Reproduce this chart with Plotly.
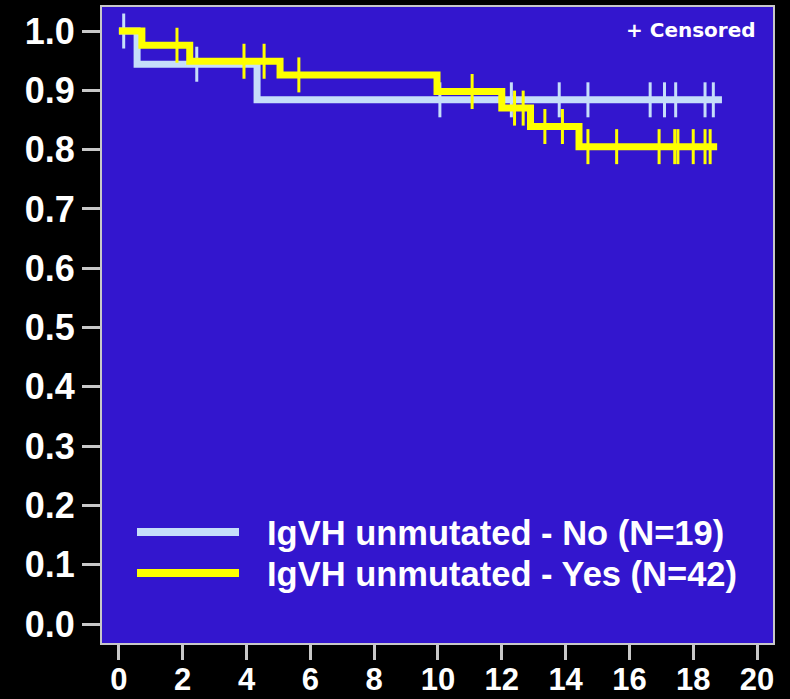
import numpy as np
import plotly.graph_objects as go

# Kaplan-Meier step data (time in years, survival probability)
no_step_times = [0.0, 0.57, 4.33]
no_step_surv = [1.0, 0.944, 0.884]
no_end_time = 18.9
no_censor_times = [0.15, 2.44, 10.06, 12.3, 13.8, 14.7, 16.65, 17.1, 17.45, 18.37, 18.63]

yes_step_times = [0.0, 0.72, 2.22, 5.05, 9.97, 12.0, 12.9, 14.42]
yes_step_surv = [1.0, 0.976, 0.949, 0.926, 0.898, 0.870, 0.839, 0.805]
yes_end_time = 18.75
yes_censor_times = [1.82, 3.92, 4.55, 5.64, 11.07, 12.4, 12.67, 13.35, 13.9,
                    14.7, 15.6, 16.93, 17.42, 17.52, 18.0, 18.37, 18.53]

group_labels = ["IgVH unmutated - No (N=19)", "IgVH unmutated - Yes (N=42)"]
group_colors = ["#C6DEFA", "#FFFF00"]

x_ticks = list(range(0, 21, 2))
y_ticks = [round(v * 0.1, 1) for v in range(0, 11)]

PLOT_BG = "#3316CE"
AXIS_COLOR = "#C8C8C8"


def surv_at(times, surv, t):
    idx = np.searchsorted(np.array(times), t, side="right") - 1
    return np.array(surv)[idx]


fig = go.Figure()

groups = [
    (no_step_times, no_step_surv, no_end_time, no_censor_times),
    (yes_step_times, yes_step_surv, yes_end_time, yes_censor_times),
]

for (st, sv, end_t, cens), color in zip(groups, group_colors):
    xs = list(st) + [end_t]
    ys = list(sv) + [sv[-1]]
    fig.add_trace(go.Scatter(
        x=xs, y=ys, mode="lines", line=dict(color=color, width=7, shape="hv"),
        showlegend=False, hoverinfo="skip",
    ))
    fig.add_trace(go.Scatter(
        x=cens, y=surv_at(st, sv, cens), mode="markers",
        marker=dict(symbol="line-ns", size=25, line=dict(color=color, width=3)),
        showlegend=False, hoverinfo="skip",
    ))

# hand-drawn legend inside the plot area
L, R, T, B = 102, 17, 7, 56
W, H = 790, 699
pw, ph = W - L - R, H - T - B


def px_x(p):
    return (p - L) / pw


def px_y(p):
    return (H - B - p) / ph


for label, color, ypix in zip(group_labels, group_colors, [532, 573]):
    fig.add_shape(type="line", xref="paper", yref="paper",
                  x0=px_x(137), x1=px_x(239), y0=px_y(ypix), y1=px_y(ypix),
                  line=dict(color=color, width=8))
    fig.add_annotation(xref="paper", yref="paper", x=px_x(265), y=px_y(ypix + 1),
                       xanchor="left", yanchor="middle", text=label, showarrow=False,
                       font=dict(family="Liberation Sans, Arial", size=34.5, color="white",
                                 weight="bold"))

fig.add_annotation(xref="paper", yref="paper", x=px_x(758), y=px_y(30),
                   xanchor="right", yanchor="middle", text="+ Censored", showarrow=False,
                   font=dict(family="DejaVu Sans", size=20, color="white", weight="bold"))

fig.update_layout(
    width=W, height=H,
    margin=dict(l=L, r=R, t=T, b=B, autoexpand=False),
    paper_bgcolor="black", plot_bgcolor=PLOT_BG,
    showlegend=False,
    xaxis=dict(
        range=[-0.53, 20.5], tickvals=x_ticks, ticktext=[str(v) for v in x_ticks],
        showgrid=False, zeroline=False, showline=True, linecolor=AXIS_COLOR, linewidth=2,
        mirror=True, ticks="", ticklabelstandoff=8, automargin=False,
        tickfont=dict(family="Liberation Sans, Arial", size=31, color="white", weight="bold"),
    ),
    # tick marks for the time axis, drawn on a twin axis so the labels can sit closer
    xaxis2=dict(
        overlaying="x", matches="x", side="bottom", anchor="y",
        tickvals=x_ticks, showticklabels=False, showgrid=False, zeroline=False,
        showline=False, ticks="outside", ticklen=16, tickwidth=3, tickcolor=AXIS_COLOR,
        automargin=False,
    ),
    yaxis=dict(
        range=[-0.032, 1.0405], tickvals=y_ticks, ticktext=[f"{v:.1f}" for v in y_ticks],
        showgrid=False, zeroline=False, showline=True, linecolor=AXIS_COLOR, linewidth=2,
        mirror=True, ticks="outside", ticklen=18, tickwidth=3, tickcolor=AXIS_COLOR,
        automargin=False,
        tickfont=dict(family="Liberation Sans, Arial", size=36, color="white", weight="bold"),
    ),
)
# empty trace so the twin axis is drawn
fig.add_trace(go.Scatter(x=[x_ticks[0]], y=[None], xaxis="x2", showlegend=False,
                         hoverinfo="skip"))

fig.write_html("out.html")
